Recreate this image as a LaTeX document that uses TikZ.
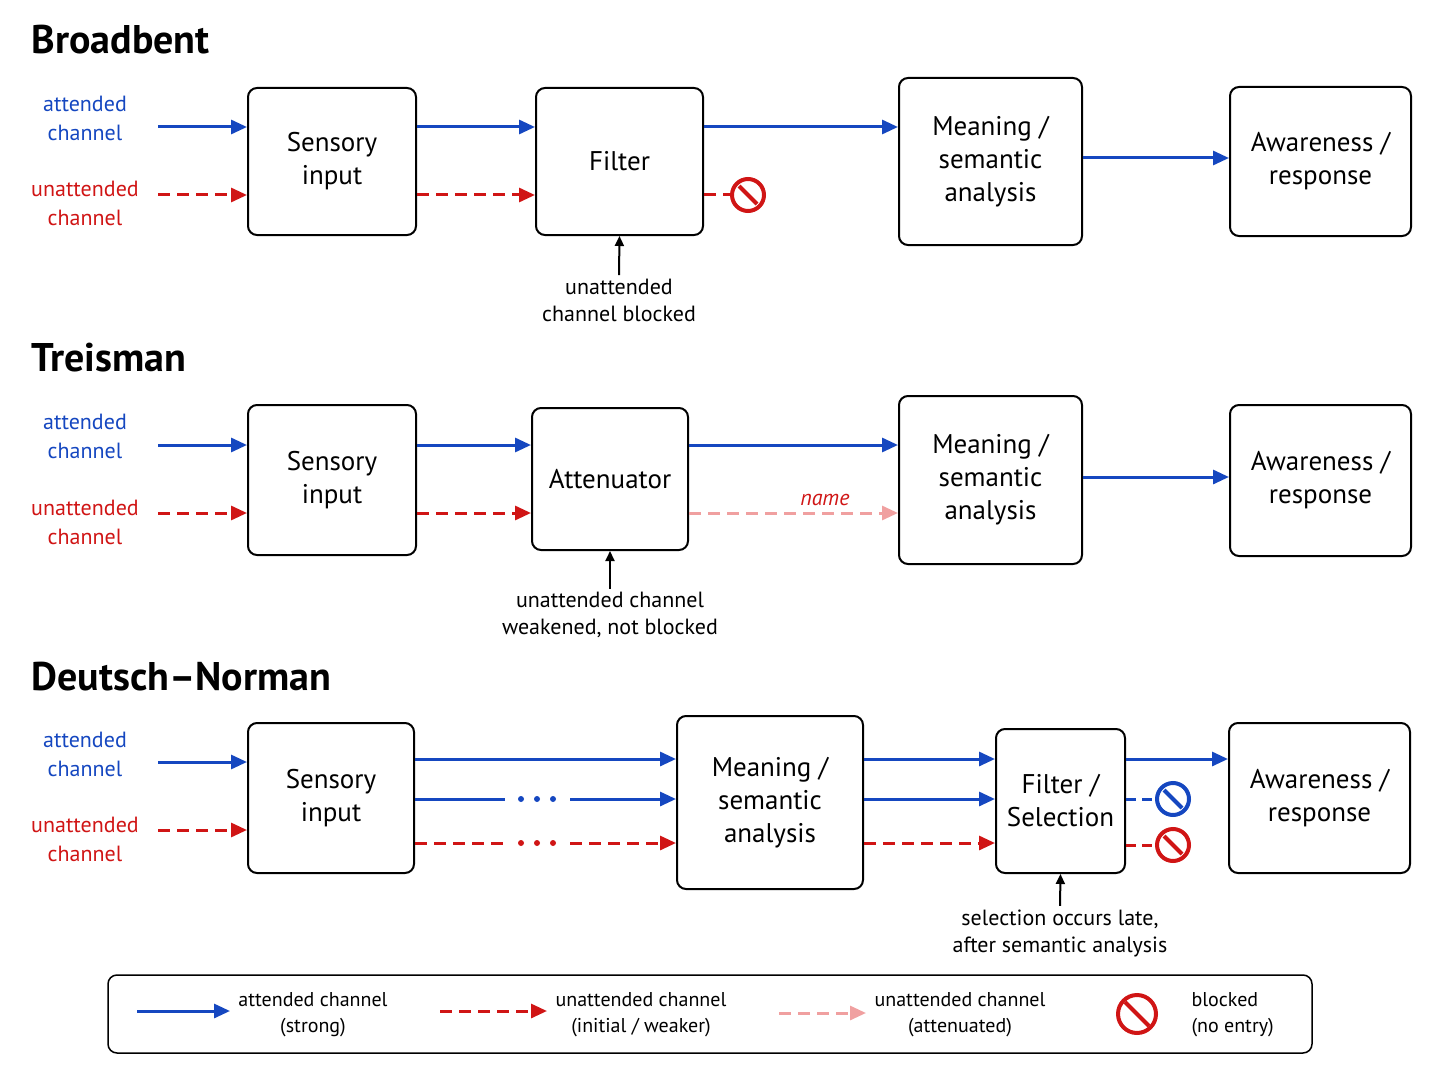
\documentclass[tikz,border=0pt]{standalone}
\usepackage{fontspec}
\setmainfont{PT Sans}
\usetikzlibrary{arrows.meta}
\definecolor{attblue}{HTML}{1547C0}
\definecolor{unred}{HTML}{D01515}
\definecolor{weakpink}{HTML}{F0A0A0}
\tikzset{
  stage/.style = {draw, rounded corners=9pt, line width=2pt, align=center,
    font=\fontsize{27}{33}\selectfont, inner sep=0pt},
  title/.style = {anchor=west, font=\fontsize{40}{44}\selectfont\bfseries},
  chan/.style = {align=center, font=\fontsize{22}{29}\selectfont},
  note/.style = {align=center, font=\fontsize{22}{27}\selectfont},
  att/.style = {attblue, line width=3pt, -{Triangle[length=16pt,width=14pt]}},
  unatt/.style = {unred, line width=3pt, dash pattern=on 12pt off 7pt, -{Triangle[length=16pt,width=14pt]}},
  weak/.style = {weakpink, line width=3pt, dash pattern=on 12pt off 7pt, -{Triangle[length=16pt,width=14pt]}},
  up/.style = {line width=2pt, -{Triangle[length=10pt,width=9pt]}},
  blocked/.style = {circle, draw=#1, line width=4pt, minimum size=32pt, inner sep=0pt,
    path picture={\draw[#1, line width=4pt] (path picture bounding box.north west) ++(7pt,-7pt)
      -- ([shift={(-7pt,7pt)}]path picture bounding box.south east);}}
}
\begin{document}
\begin{tikzpicture}[x=1pt, y=-1pt]
\useasboundingbox (0,0) rectangle (1448,1086);

% Broadbent
\node[title] at (28,40) {Broadbent};
\node[chan, attblue] (ba) at (85,118) {attended\\channel};
\node[chan, unred] (bu) at (85,203) {unattended\\channel};
\coordinate (ba0) at (158,127);
\coordinate (bu0) at (158,195);
\node[stage, minimum width=168pt, minimum height=147pt] (bs) at (332,161.5) {Sensory\\input};
\node[stage, minimum width=167pt, minimum height=147pt] (bf) at (619.5,161.5) {Filter};
\node[stage, minimum width=183pt, minimum height=167pt] (bm) at (990.5,161.5) {Meaning /\\semantic\\analysis};
\node[stage, minimum width=181pt, minimum height=149pt] (bw) at (1320.5,161.5) {Awareness /\\response};
\node[blocked=unred] (bx) at (748,195) {};
\draw[att] (ba0) -- (bs.west |- ba0);
\draw[unatt] (bu0) -- (bs.west |- bu0);
\draw[att] (bs.east |- ba0) -- (bf.west |- ba0);
\draw[unatt] (bs.east |- bu0) -- (bf.west |- bu0);
\draw[att] (bf.east |- ba0) -- (bm.west |- ba0);
\draw[unred, line width=3pt, dash pattern=on 12pt off 7pt] (bf.east |- bu0) -- (bx);
\draw[att] (bm.east |- 0,158) -- (bw.west |- 0,158);
\node[note] (bn) at (619,300) {unattended\\channel blocked};
\draw[up] (bn.north) -- (bf.south);

% Treisman
\node[title] at (28,358) {Treisman};
\node[chan, attblue] (ta) at (85,436) {attended\\channel};
\node[chan, unred] (tu) at (85,522) {unattended\\channel};
\coordinate (ta0) at (158,445);
\coordinate (tu0) at (158,513);
\node[stage, minimum width=168pt, minimum height=150pt] (ts) at (332,480) {Sensory\\input};
\node[stage, minimum width=156pt, minimum height=142pt] (tf) at (610,479) {Attenuator};
\node[stage, minimum width=183pt, minimum height=168pt] (tm) at (990.5,480) {Meaning /\\semantic\\analysis};
\node[stage, minimum width=181pt, minimum height=151pt] (tw) at (1320.5,480.5) {Awareness /\\response};
\draw[att] (ta0) -- (ts.west |- ta0);
\draw[unatt] (tu0) -- (ts.west |- tu0);
\draw[att] (ts.east |- ta0) -- (tf.west |- ta0);
\draw[unatt] (ts.east |- tu0) -- (tf.west |- tu0);
\draw[att] (tf.east |- ta0) -- (tm.west |- ta0);
\draw[weak] (tf.east |- tu0) -- node[above=2pt, unred, font=\fontsize{22}{26}\selectfont\itshape, pos=0.65] {name} (tm.west |- tu0);
\draw[att] (tm.east |- 0,477) -- (tw.west |- 0,477);
\node[note] (tn) at (610,615) {unattended channel\\weakened, not blocked};
\draw[up] (tn.north) -- (tf.south);

% Deutsch-Norman
\node[title] at (28,677) {Deutsch–Norman};
\node[chan, attblue] (da) at (85,754) {attended\\channel};
\node[chan, unred] (du) at (85,839) {unattended\\channel};
\coordinate (da0) at (158,762);
\coordinate (du0) at (158,830);
\node[stage, minimum width=166pt, minimum height=150pt] (ds) at (331,798) {Sensory\\input};
\node[stage, minimum width=186pt, minimum height=173pt] (dm) at (770,802.5) {Meaning /\\semantic\\analysis};
\node[stage, minimum width=129pt, minimum height=144pt] (df) at (1060.5,801) {Filter /\\Selection};
\node[stage, minimum width=181pt, minimum height=150pt] (dw) at (1319.5,798) {Awareness /\\response};
\node[blocked=attblue] (dx1) at (1173,799) {};
\node[blocked=unred] (dx2) at (1173,845) {};
\draw[att] (da0) -- (ds.west |- da0);
\draw[unatt] (du0) -- (ds.west |- du0);
% three routes to meaning
\draw[att] (ds.east |- 0,759) -- (dm.west |- 0,759);
\coordinate (d2a) at (505,799);
\coordinate (d2b) at (570,799);
\coordinate (d3a) at (505,843);
\coordinate (d3b) at (570,843);
\draw[attblue, line width=3pt] (ds.east |- d2a) -- (d2a);
\draw[att] (d2b) -- (dm.west |- d2b);
\draw[unred, line width=3pt, dash pattern=on 12pt off 7pt] (ds.east |- d3a) -- (d3a);
\draw[unatt] (d3b) -- (dm.west |- d3b);
\foreach \x in {521,537,553} {
  \fill[attblue] (\x,799) circle (3pt);
  \fill[unred] (\x,843) circle (3pt);
}
\draw[att] (dm.east |- 0,759) -- (df.west |- 0,759);
\draw[att] (dm.east |- 0,799) -- (df.west |- 0,799);
\draw[unatt] (dm.east |- 0,843) -- (df.west |- 0,843);
\draw[att] (df.east |- 0,759) -- (dw.west |- 0,759);
\draw[attblue, line width=3pt, dash pattern=on 10pt off 6pt] (df.east |- dx1) -- (dx1);
\draw[unred, line width=3pt, dash pattern=on 10pt off 6pt] (df.east |- dx2) -- (dx2);
\node[note] (dn) at (1060,933) {selection occurs late,\\after semantic analysis};
\draw[up] (dn.north) -- (df.south);

% legend
\node[draw, rounded corners=9pt, line width=1.5pt, minimum width=1204pt, minimum height=78pt] (key) at (710,1014) {};
\coordinate (k1a) at (137,1011);
\coordinate (k1b) at (230,1011);
\coordinate (k2a) at (440,1011);
\coordinate (k2b) at (547,1011);
\coordinate (k3a) at (779,1013);
\coordinate (k3b) at (866,1013);
\draw[att] (k1a) -- (k1b);
\draw[unatt] (k2a) -- (k2b);
\draw[weak] (k3a) -- (k3b);
\node[blocked=unred, minimum size=38pt] (kx) at (1137,1014) {};
\node[note, font=\fontsize{20}{26}\selectfont] at (313,1015) {attended channel\\(strong)};
\node[note, font=\fontsize{20}{26}\selectfont] at (641,1015) {unattended channel\\(initial / weaker)};
\node[note, font=\fontsize{20}{26}\selectfont] at (960,1015) {unattended channel\\(attenuated)};
\node[note, font=\fontsize{20}{26}\selectfont, align=left, anchor=west] at (1188,1015) {blocked\\(no entry)};
\end{tikzpicture}
\end{document}
